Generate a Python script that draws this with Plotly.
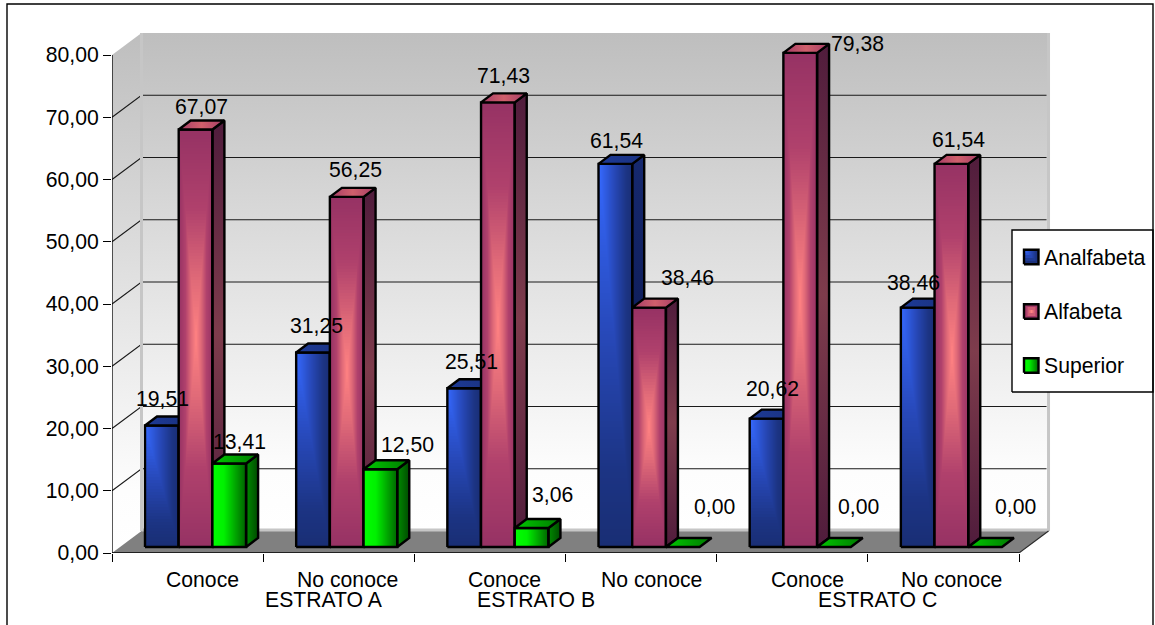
import numpy as np
import plotly.graph_objects as go

# Survey percentages by knowledge answer, stratum and education level
CATEGORIES = ["Conoce", "No conoce", "Conoce", "No conoce", "Conoce", "No conoce"]
GROUPS = ["ESTRATO A", "ESTRATO B", "ESTRATO C"]
ANALFABETA = [19.51, 31.25, 25.51, 61.54, 20.62, 38.46]
ALFABETA = [67.07, 56.25, 71.43, 38.46, 79.38, 61.54]
SUPERIOR = [13.41, 12.50, 3.06, 0.00, 0.00, 0.00]
Y_TICKS = [0, 10, 20, 30, 40, 50, 60, 70, 80]

# Canvas geometry in pixels
WIDTH, HEIGHT = 1155, 625
LEFT, TOP, BOTTOM = 112, 33, 553
PX_PER_CAT = 151.17
PX_PER_UNIT = 6.225
FONT = "Liberation Sans"
FONT_SIZE = 21.2
OUTLINE = 2.4


def dx(px):
    return px / PX_PER_CAT


def dy(px):
    return px / PX_PER_UNIT


def xpx(px):
    return (px - LEFT) / PX_PER_CAT


def ypx(py):
    return (BOTTOM - py) / PX_PER_UNIT


# Pseudo-3D depth of the box and of the bars
WALL_DX, WALL_DY = dx(29.5), dy(22)
BAR_BASE = dy(6)
BAR_START = dx(33)
BAR_W = dx(33.7)
BAR_DX, BAR_DY = dx(12), dy(9)

BLUE_SCALE = [[0, "#3569ff"], [0.45, "#2748b8"], [0.8, "#1c3484"], [1, "#192e74"]]
ROSE_SCALE = [[0, "#ff8282"], [0.28, "#e06a78"], [0.62, "#b0416c"], [1, "#963264"]]
GREEN_SCALE = [[0, "#00ff00"], [0.35, "#00f000"], [1, "#006200"]]


def shade_blue(u, w):
    return np.maximum(u, w)


def shade_rose(u, w):
    return np.maximum(np.abs(2 * u - 1), np.abs(2 * w - 1))


def shade_green(u, w):
    return u


SERIES = [
    dict(name="Analfabeta", values=ANALFABETA, scale=BLUE_SCALE, shade=shade_blue,
         side=[[0, "#16296f"], [0.5, "#0e1c58"], [1, "#16296f"]],
         top=[[0, "#1d3a96"], [1, "#1a3280"]], side_kind="vertical", top_kind="horizontal"),
    dict(name="Alfabeta", values=ALFABETA, scale=ROSE_SCALE, shade=shade_rose,
         side=[[0, "#501c3c"], [0.5, "#7e3c4c"], [1, "#501c3c"]],
         top=[[0, "#a53c66"], [0.5, "#d0606c"], [1, "#a53c66"]], side_kind="vertical", top_kind="horizontal"),
    dict(name="Superior", values=SUPERIOR, scale=GREEN_SCALE, shade=shade_green,
         side=[[0, "#008a00"], [1, "#004c00"]],
         top=[[0, "#00c800"], [1, "#007a00"]], side_kind="horizontal", top_kind="horizontal"),
]

fig = go.Figure()


def axes(layer):
    suffix = "" if layer == 1 else str(layer)
    return dict(xaxis="x" + suffix, yaxis="y" + suffix)


def polygon(xs, ys, layer, color=None, gradient=None, line="#000000", width=OUTLINE, name=""):
    kw = dict(fillgradient=dict(type=gradient[0], colorscale=gradient[1])) if gradient else {}
    fig.add_trace(go.Scatter(
        x=list(xs) + [xs[0]], y=list(ys) + [ys[0]], mode="lines", fill="toself",
        fillcolor=color or "rgba(0,0,0,0)", line=dict(color=line, width=width),
        showlegend=False, hoverinfo="skip", name=name, **kw, **axes(layer)))


def segment(xs, ys, layer=1, color="#000000", width=1.0):
    fig.add_trace(go.Scatter(
        x=xs, y=ys, mode="lines", line=dict(color=color, width=width),
        showlegend=False, hoverinfo="skip", **axes(layer)))


def shaded_rect(x0, x1, y0, y1, scale, shade, layer, name=""):
    ncols = max(4, int(round((x1 - x0) * PX_PER_CAT)))
    nrows = max(4, int(round((y1 - y0) * PX_PER_UNIT / 3)))
    u = (np.arange(ncols) + 0.5) / ncols
    w = (np.arange(nrows) + 0.5) / nrows
    uu, ww = np.meshgrid(u, 1 - w)
    fig.add_trace(go.Heatmap(
        x=np.linspace(x0, x1, ncols + 1), y=np.linspace(y0, y1, nrows + 1),
        z=shade(uu, ww), colorscale=scale, zmin=0, zmax=1, showscale=False,
        hoverinfo="skip", name=name, **axes(layer)))


# Box: left wall, back wall, floor
wall_scale = [[0, "#ffffff"], [0.12, "#fdfdfd"], [0.45, "#e6e6e6"], [1, "#bebebe"]]
ymax_front = Y_TICKS[-1]
polygon([0, WALL_DX, WALL_DX, 0],
        [0, WALL_DY, ymax_front + WALL_DY, ymax_front],
        1, gradient=("vertical", wall_scale), line="rgba(0,0,0,0)", width=0)
x_end = len(CATEGORIES)
polygon([WALL_DX, x_end + WALL_DX, x_end + WALL_DX, WALL_DX],
        [WALL_DY, WALL_DY, ymax_front + WALL_DY, ymax_front + WALL_DY],
        1, gradient=("vertical", wall_scale), line="rgba(0,0,0,0)", width=0)
polygon([0, x_end, x_end + WALL_DX, WALL_DX], [0, 0, WALL_DY, WALL_DY], 1,
        color="#808080", line="rgba(0,0,0,0)", width=0)

# Gridlines on both walls
for tick in Y_TICKS[1:-1]:
    segment([0, WALL_DX, x_end + WALL_DX - dx(2)],
            [tick, tick + WALL_DY, tick + WALL_DY], color="#1a1a1a", width=1.1)

# Light edges of the walls
edge = "#c6c6c6"
segment([WALL_DX, WALL_DX], [WALL_DY, ymax_front + WALL_DY], color=edge, width=3)
segment([x_end + WALL_DX, x_end + WALL_DX], [WALL_DY, ymax_front + WALL_DY], color=edge, width=3)
segment([WALL_DX, x_end + WALL_DX], [WALL_DY + dy(1), WALL_DY + dy(1)], color=edge, width=3)

# Axis lines and the front edge of the floor
segment([0, 0], [0, ymax_front], color="#000000", width=1.3)
segment([0, x_end], [0, 0], color="#000000", width=1.3)
segment([x_end, x_end + WALL_DX], [0, WALL_DY], color="#2a2a2a", width=1.1)

# Bars: each series lives on its own overlay so it covers the one before it
for s_idx, series in enumerate(SERIES):
    layer = s_idx + 2
    for i, value in enumerate(series["values"]):
        x0 = i + BAR_START + s_idx * BAR_W
        x1 = x0 + BAR_W
        y0 = BAR_BASE
        y1 = value + BAR_BASE
        if value > 0:
            shaded_rect(x0, x1, y0, y1, series["scale"], series["shade"], layer, series["name"])
            polygon([x1, x1 + BAR_DX, x1 + BAR_DX, x1], [y0, y0 + BAR_DY, y1 + BAR_DY, y1], layer,
                    gradient=(series["side_kind"], series["side"]), name=series["name"])
            polygon([x0, x1, x1, x0], [y0, y0, y1, y1], layer, name=series["name"])
        polygon([x0, x1, x1 + BAR_DX, x0 + BAR_DX], [y1, y1, y1 + BAR_DY, y1 + BAR_DY], layer,
                gradient=(series["top_kind"], series["top"]), name=series["name"])

# Legend box, with swatches on one more overlay above it
polygon([xpx(1012), xpx(1153), xpx(1153), xpx(1012)],
        [ypx(392), ypx(392), ypx(230), ypx(230)], 4, color="#ffffff", width=1.4)
LEGEND_ROWS = [257, 311.5, 365.5]
annotations = []
for series, row in zip(SERIES, LEGEND_ROWS):
    x0, x1 = xpx(1024), xpx(1038.5)
    y0, y1 = ypx(row + 7.2), ypx(row - 7.2)
    shaded_rect(x0, x1, y0, y1, series["scale"], series["shade"], 5, series["name"])
    polygon([x0, x1, x1, x0], [y0, y0, y1, y1], 5, name=series["name"])
    annotations.append(dict(x=xpx(1041.5), y=ypx(row), xref="x", yref="y", text=series["name"],
                            showarrow=False, xanchor="left", yanchor="middle",
                            font=dict(family=FONT, size=FONT_SIZE, color="#000000")))

# Value labels: pixel nudges away from the front top edge of each bar
LABEL_SHIFTS = [
    [(1, 27.5), (3, 26.5), (7, 27), (1.5, 23), (6, 30.6), (-4, 24.6)],
    [(5.5, 22.5), (9, 27), (6, 27), (38, 29.6), (57, 9), (7, 24)],
    [(10.5, 22.5), (27, 25), (21, 33), (32, 41), (25, 41), (30, 41)],
]
for s_idx, series in enumerate(SERIES):
    for i, value in enumerate(series["values"]):
        shift_x, shift_y = LABEL_SHIFTS[s_idx][i]
        annotations.append(dict(
            x=i + BAR_START + (s_idx + 0.5) * BAR_W, y=value + BAR_BASE, xref="x", yref="y",
            text=f"{value:.2f}".replace(".", ","), showarrow=False,
            xanchor="center", yanchor="middle", xshift=shift_x, yshift=shift_y,
            font=dict(family=FONT, size=FONT_SIZE, color="#000000")))

# Category and group captions below the axis
CATEGORY_CENTERS = [202, 347, 504, 651, 807, 951]
GROUP_CENTERS = [324, 536, 877]
for label, center in zip(CATEGORIES, CATEGORY_CENTERS):
    annotations.append(dict(x=xpx(center), y=0, xref="x", yref="y", text=label, showarrow=False,
                            xanchor="center", yanchor="middle", yshift=-26,
                            font=dict(family=FONT, size=FONT_SIZE, color="#000000")))
for label, center in zip(GROUPS, GROUP_CENTERS):
    annotations.append(dict(x=xpx(center), y=0, xref="x", yref="y", text=label, showarrow=False,
                            xanchor="center", yanchor="middle", yshift=-46,
                            font=dict(family=FONT, size=FONT_SIZE, color="#000000")))

x_range = [0, xpx(WIDTH)]
y_range = [0, ypx(TOP)]
layout_axes = {}
for n in range(2, 6):
    layout_axes[f"xaxis{n}"] = dict(range=x_range, overlaying="x", visible=False, anchor=f"y{n}", fixedrange=True)
    layout_axes[f"yaxis{n}"] = dict(range=y_range, overlaying="y", visible=False, anchor=f"x{n}", fixedrange=True)

fig.update_layout(
    width=WIDTH, height=HEIGHT,
    margin=dict(l=LEFT, r=0, t=TOP, b=HEIGHT - BOTTOM, pad=0),
    paper_bgcolor="#ffffff", plot_bgcolor="rgba(0,0,0,0)",
    showlegend=False, separators=",.",
    font=dict(family=FONT, size=FONT_SIZE, color="#000000"),
    xaxis=dict(range=x_range, tickvals=list(range(len(CATEGORIES) + 1)), showticklabels=False,
               ticks="outside", ticklen=8, tickwidth=1, tickcolor="#000000",
               showgrid=False, zeroline=False, showline=False, fixedrange=True),
    yaxis=dict(range=y_range, tickvals=Y_TICKS, tickformat=".2f", ticks="outside", ticklen=8,
               tickwidth=1.2, tickcolor="#000000", showgrid=False, zeroline=False,
               showline=False, fixedrange=True),
    annotations=annotations,
    # Outer chart frame, open at the bottom of the page
    shapes=[dict(type="rect", xref="paper", yref="paper", layer="above",
                 x0=(7 - LEFT) / (WIDTH - LEFT), x1=(1153 - LEFT) / (WIDTH - LEFT),
                 y0=(BOTTOM - 660) / (BOTTOM - TOP), y1=(BOTTOM - 4) / (BOTTOM - TOP),
                 line=dict(color="#000000", width=1.4))],
    **layout_axes,
)

fig.write_html("out.html")
